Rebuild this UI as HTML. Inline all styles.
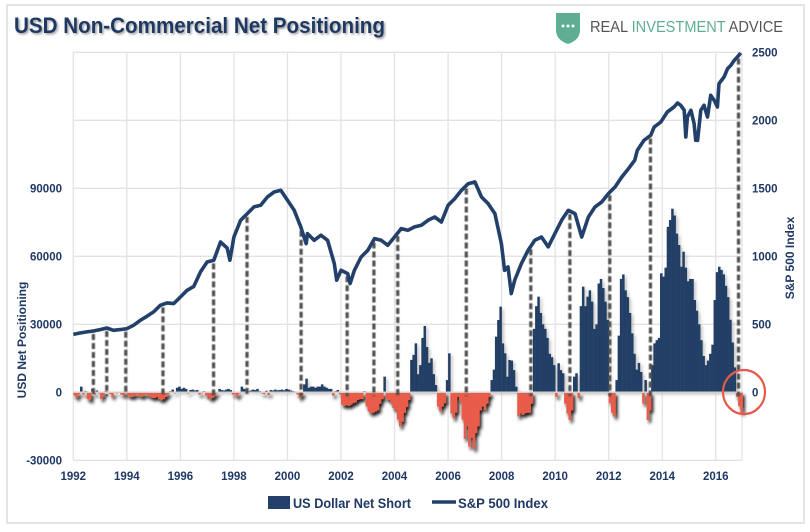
<!DOCTYPE html>
<html><head><meta charset="utf-8"><style>
html,body{margin:0;padding:0;background:#fff;}
svg{display:block;font-family:"Liberation Sans Narrow","Liberation Sans",sans-serif;}
</style></head><body>
<svg id="chart" width="810" height="532" viewBox="0 0 810 532">
<defs>
<filter id="redsh" x="-5%" y="-5%" width="115%" height="130%"><feDropShadow dx="2" dy="3" stdDeviation="1.5" flood-color="#000" flood-opacity="0.9"/></filter>
<filter id="bluesh" x="-5%" y="-5%" width="115%" height="115%"><feDropShadow dx="2" dy="2" stdDeviation="1.5" flood-color="#999" flood-opacity="0.6"/></filter>
<filter id="tsh"><feDropShadow dx="1.5" dy="1.5" stdDeviation="1" flood-color="#777" flood-opacity="0.7"/></filter>
<filter id="dsh"><feGaussianBlur stdDeviation="0.4"/></filter>
</defs>
<rect x="7" y="5" width="797" height="518" fill="#fff" stroke="#dcdcdc" stroke-width="1.5"/>
<text x="14" y="33" font-size="22" font-weight="bold" fill="#1f3864" textLength="371" lengthAdjust="spacingAndGlyphs" filter="url(#tsh)">USD Non-Commercial Net Positioning</text>
<g>
<path d="M556 13 L580 13 L580 30 Q580 40 568 44 Q556 40 556 30 Z" fill="#5fae93"/>
<circle cx="563" cy="26" r="1.5" fill="#fff"/><circle cx="568" cy="26" r="1.5" fill="#fff"/><circle cx="573" cy="26" r="1.5" fill="#fff"/>
<text x="590" y="32" font-size="16" fill="#555" textLength="193" lengthAdjust="spacingAndGlyphs" font-family="Liberation Sans, sans-serif">REAL <tspan fill="#5fae93">INVESTMENT</tspan> ADVICE</text>
</g>
<g id="grid"></g>
<g id="bars-blue" filter="url(#bluesh)"></g>
<g id="bars-red" filter="url(#redsh)"></g>
<line x1="73.3" x2="742" y1="392.3" y2="392.3" stroke="#d0d0d0" stroke-width="1.5"/>
<g id="dashes" filter="url(#dsh)"></g>
<path id="spline" fill="none" stroke="#22406a" stroke-width="3.6" stroke-linejoin="round"/>
<g id="axes"></g>
<ellipse cx="744" cy="392" rx="21" ry="22" fill="none" stroke="#e8584a" stroke-width="2.2"/>
<text transform="translate(26,340) rotate(-90)" text-anchor="middle" font-size="12" font-weight="bold" fill="#1f3864" font-family="Liberation Sans, sans-serif">USD Net Positioning</text>
<text transform="translate(794,258) rotate(-90)" text-anchor="middle" font-size="12" font-weight="bold" fill="#1f3864" font-family="Liberation Sans, sans-serif">S&amp;P 500 Index</text>
<g>
<rect x="268" y="496" width="22" height="13" fill="#22406a"/>
<text x="293" y="508" font-size="14" font-weight="bold" fill="#1f3864" textLength="118" lengthAdjust="spacingAndGlyphs">US Dollar Net Short</text>
<line x1="432" x2="456" y1="502" y2="502" stroke="#22406a" stroke-width="3.5"/>
<text x="458" y="508" font-size="14" font-weight="bold" fill="#1f3864" textLength="90" lengthAdjust="spacingAndGlyphs">S&amp;P 500 Index</text>
</g>
</svg>
<script>
const netValues = [
-1500,-2500,-1000,2500,-1000,500,-3000,-3500,1500,-1000,800,-500,
-3000,-1500,500,300,-800,-2000,300,-500,200,-1000,-1500,-500,
-1500,-2000,-2000,-1500,-1000,-1500,-2000,-1500,-1000,-1500,-2000,-2500,
-2500,-2000,-3000,-3500,-3000,-2000,-1000,500,1200,-500,2000,2500,
1500,2000,1500,-500,1000,1200,800,1000,-1000,-500,500,-1500,
-2000,-3000,-2500,-1500,-500,1500,1000,800,1200,1500,1000,-1000,
-1000,-2000,-500,2500,1500,1000,500,800,1200,1000,1500,500,
-500,-800,700,-1200,1000,800,1200,900,1000,1200,900,1500,
1200,800,500,300,-1000,-2500,-1500,3500,6000,2000,2500,2500,
2000,2500,2500,3500,2500,2000,1500,1500,-1500,500,1000,-1000,
-5500,-6000,-5800,-6000,-5500,-4800,-4500,-3400,-3000,-3000,500,-6300,
-8500,-9300,-9000,-8500,-8000,-5000,-3000,6900,-3000,-3400,-4800,-7000,
-7800,-12000,-15100,-13000,-9000,-6500,-3400,14300,16500,21600,8000,12000,
24000,29250,20000,13000,15000,8000,3200,-6300,-8500,-6300,-4800,5400,
17200,-9300,-11500,-9000,-2000,-4000,-12000,-20500,-15000,-24000,-20000,-25000,
-18000,-15000,-8000,-6300,-7800,-5000,-2000,5400,10000,24550,31900,37800,
21600,17200,6900,14260,14000,9800,2500,-10700,-9300,-10000,-9300,-9000,
-9000,-5000,28000,38000,42200,35000,30000,28000,24000,17000,15500,12000,
-2000,12800,9800,8400,-5000,-9300,-12200,-8000,6900,8400,-2500,38000,
46600,38000,42200,45000,40000,28000,30000,48000,50000,46000,40000,32000,
-4800,-9000,-10700,5400,25000,50000,52000,45000,42000,35000,26000,17000,
10000,13000,9000,-5000,5400,-12200,-8000,12000,21600,23000,24000,52500,
51000,55000,73000,76000,81000,78000,70000,65000,55400,62000,55000,49000,
50000,50000,40700,36000,30000,23000,16000,12000,14000,17000,21000,40700,
53000,55400,54000,52000,47000,42000,32000,22000,11000,-2000,-6000,-9000];
const startYear = 1992;
const spYears = [1992,1992.25,1992.5,1992.75,1993,1993.25,1993.5,1993.75,1994,1994.25,1994.5,1994.75,1995,1995.25,1995.5,1995.75,1996,1996.25,1996.5,1996.75,1997,1997.25,1997.5,1997.75,1997.85,1998,1998.25,1998.5,1998.75,1999,1999.25,1999.5,1999.75,2000,2000.25,2000.5,2000.7,2000.75,2001,2001.25,2001.5,2001.75,2001.84,2002,2002.25,2002.34,2002.5,2002.75,2003,2003.25,2003.5,2003.75,2004,2004.25,2004.5,2004.75,2005,2005.25,2005.5,2005.75,2006,2006.25,2006.5,2006.75,2007,2007.25,2007.5,2007.75,2007.99,2008.11,2008.24,2008.36,2008.49,2008.74,2008.99,2009.24,2009.49,2009.74,2009.99,2010.24,2010.49,2010.74,2010.99,2011.24,2011.49,2011.74,2011.99,2012.24,2012.49,2012.74,2012.97,2013.07,2013.32,2013.57,2013.70,2013.95,2014.19,2014.44,2014.57,2014.69,2014.82,2014.88,2014.94,2015.07,2015.19,2015.25,2015.32,2015.44,2015.56,2015.69,2015.81,2015.94,2016.06,2016.12,2016.31,2016.44,2016.56,2016.69,2016.81,2016.93];
const spValues = [426,436,444,451,461,473,456,461,468,493,529,559,591,640,657,652,701,750,779,885,958,971,1105,1060,971,1142,1265,1314,1363,1375,1436,1473,1485,1412,1338,1216,1093,1167,1118,1155,1118,946,824,897,873,799,897,995,1044,1130,1118,1081,1142,1204,1191,1216,1228,1265,1289,1252,1375,1424,1485,1534,1547,1436,1387,1314,1093,897,922,726,824,946,1044,1118,1142,1069,1167,1265,1338,1314,1142,1289,1363,1399,1461,1510,1583,1645,1706,1779,1853,1890,1951,1988,2061,2098,2127,2110,2074,1877,2024,2074,1976,1853,1853,2074,2110,2024,2184,2147,2098,2270,2319,2380,2404,2441,2466,2495];
const dashYears = [1992.75,1993.25,1993.96,1995.35,1997.24,1998.49,2000.51,2002.23,2003.23,2004.12,2006.68,2009.09,2010.55,2012.04,2013.56,2016.85];
const leftTicks = [90000,60000,30000,0,-30000];
const rightTicks = [2500,2000,1500,1000,500,0];
const xTicks = ["1992","1994","1996","1998","2000","2002","2004","2006","2008","2010","2012","2014","2016"];

const NS="http://www.w3.org/2000/svg";
const X0=73.3, PX_YEAR=26.77, Y0=392.3;
function xs(year){return X0+(year-startYear)*PX_YEAR;}
function yL(v){return Y0-v*68/30000;}
function yR(v){return Y0-v*68/500;}
function mk(tag,attrs,parent){const e=document.createElementNS(NS,tag);for(const k in attrs)e.setAttribute(k,attrs[k]);parent.appendChild(e);return e;}

const grid=document.getElementById('grid');
xTicks.forEach(t=>{
  const x=xs(+t);
  const l=mk('line',{x1:x,x2:x,y1:52,y2:460,stroke:'#e3e3e3','stroke-width':1.3},grid);
  
  
});
mk('line',{x1:742,x2:742,y1:52,y2:460,stroke:'#e3e3e3','stroke-width':1.3},grid);
rightTicks.forEach(t=>{
  const y=yR(t);
  const l=mk('line',{x1:X0,x2:742,y1:y,y2:y,stroke:'#e3e3e3','stroke-width':1.3},grid);
  
  
});
const gb=mk('line',{x1:X0,x2:742,y1:yL(-30000),y2:yL(-30000),stroke:'#e3e3e3','stroke-width':1.3},grid);



const bw=PX_YEAR/12;
const gBlue=document.getElementById('bars-blue'), gRed=document.getElementById('bars-red');
netValues.forEach((v,i)=>{
  if(v===0)return;
  const x=xs(startYear+i/12);
  const y=yL(v);
  const r=mk('rect',{x:x,width:bw+0.3,y:Math.min(y,Y0),height:Math.abs(Y0-y),fill:v>0?'#243f66':'#e85c4a'},v>0?gBlue:gRed);
  
  
});

function spAt(yr){
  for(let i=0;i<spYears.length-1;i++){
    if(yr>=spYears[i]&&yr<=spYears[i+1]){const t=(yr-spYears[i])/(spYears[i+1]-spYears[i]);return spValues[i]+t*(spValues[i+1]-spValues[i]);}
  }
  return spValues[spValues.length-1];
}
const gD=document.getElementById('dashes');
dashYears.forEach(yr=>{
  const x=xs(yr);
  const l=mk('line',{x1:x,x2:x,y1:yR(spAt(yr))+3,y2:Y0+4,stroke:'#505050','stroke-width':3.2,'stroke-dasharray':'6,3'},gD);
  
  
});

let d='';
spYears.forEach((yr,i)=>{d+=(i?'L':'M')+xs(yr).toFixed(1)+' '+yR(spValues[i]).toFixed(1);});
document.getElementById('spline').setAttribute('d',d);

const ax=document.getElementById('axes');
leftTicks.forEach(t=>{
  const e=mk('text',{x:62,y:yL(t)+4,'text-anchor':'end','font-size':11.5,'font-weight':'bold',fill:'#1f3864'},ax);
  e.textContent=t;
  
  
});
rightTicks.forEach(t=>{
  const e=mk('text',{x:752,y:yR(t)+4,'font-size':11.5,'font-weight':'bold',fill:'#1f3864'},ax);
  e.textContent=t;
  
  
});
xTicks.forEach(t=>{
  const e=mk('text',{x:xs(+t),y:480,'text-anchor':'middle','font-size':11.5,'font-weight':'bold',fill:'#1f3864'},ax);
  e.textContent=t;
  
  
});
</script>
</body></html>
